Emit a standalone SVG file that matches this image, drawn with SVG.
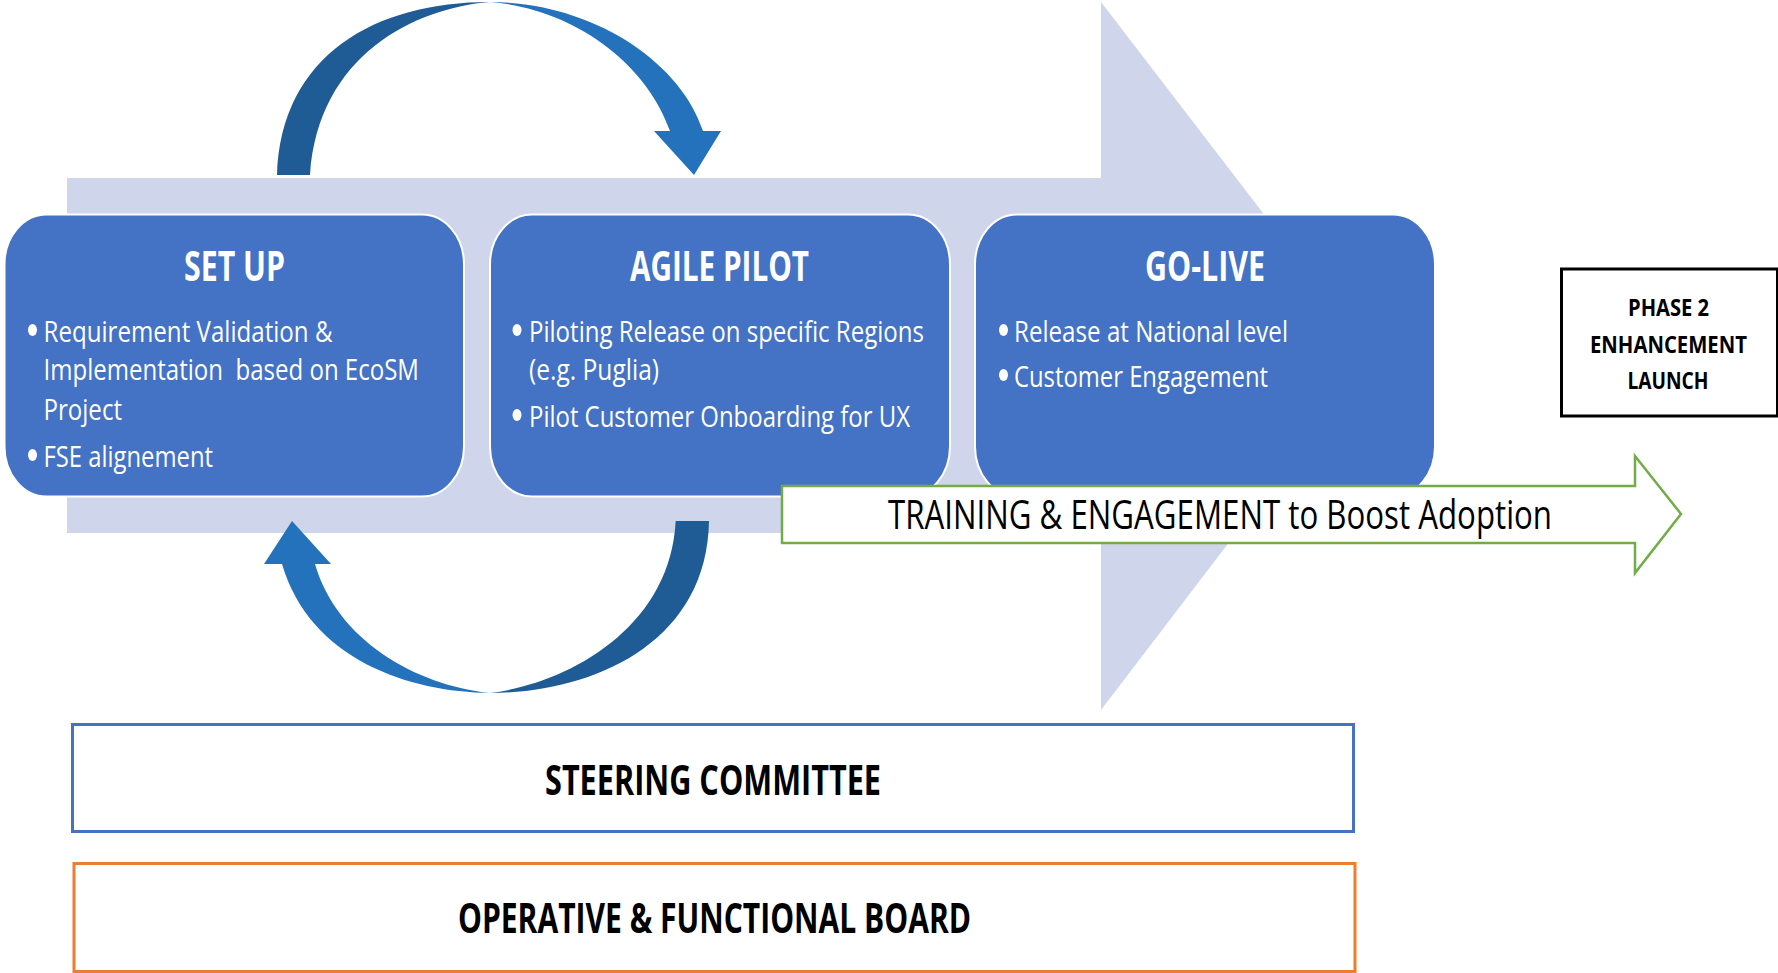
<svg xmlns="http://www.w3.org/2000/svg" width="1778" height="973" viewBox="0 0 1778 973">
<style>
text{font-family:"Open Sans","Liberation Sans",sans-serif;white-space:pre}
.title{fill:#fff;font-size:41px;font-weight:700}
.body{fill:#fff;font-size:30px;font-weight:500}
.bul{fill:#fff}
.step{fill:#4472c4;stroke:#fff;stroke-width:2}
.k42{fill:#000;font-size:41px;font-weight:700}
.k24{fill:#000;font-size:24px;font-weight:700}
.dark{fill:#1f5c96}
.lite{fill:#2472bb}
</style>
<rect width="1778" height="973" fill="#fff"/>
<g id="band"><polygon points="67,178 1101,178 1101,2 1372,355 1101,710 1101,533 67,533" fill="#cfd5ea"/></g>
<g id="connectors">
<path class="dark" d="M277,175 C281,55 375,2 490,2 C415,8 318,55 310,175 Z"/>
<path class="lite" d="M490,2 C590,2 680,60 703,131 L721,131 L694,175 L654,131 L670,131 C645,60 570,8 490,2 Z"/>
<path class="dark" d="M709,521 C707,645 590,693 490,693 C565,684 670,630 675.7,521 Z"/>
<path class="lite" d="M490,693 C410,692 310,660 282,564 L264,564 L292,521 L331,564 L315,564 C337,640 415,685 490,693 Z"/>
</g>
<g id="setup">
<rect class="step" x="4.5" y="214.5" width="459.5" height="282" rx="42" ry="50"/>
<text class="title" x="184" y="281" textLength="101" lengthAdjust="spacingAndGlyphs">SET UP</text>
<ellipse class="bul" cx="32.5" cy="330" rx="4.5" ry="6"/>
<text class="body" x="43.5" y="342" textLength="289" lengthAdjust="spacingAndGlyphs">Requirement Validation &amp;</text>
<text class="body" x="43.5" y="380" textLength="375.5" lengthAdjust="spacingAndGlyphs">Implementation  based on EcoSM</text>
<text class="body" x="43.5" y="420" textLength="78.5" lengthAdjust="spacingAndGlyphs">Project</text>
<ellipse class="bul" cx="32.5" cy="455" rx="4.5" ry="6"/>
<text class="body" x="43.5" y="467" textLength="169.5" lengthAdjust="spacingAndGlyphs">FSE alignement</text>
</g>
<g id="agile-pilot">
<rect class="step" x="490" y="214.5" width="460" height="282" rx="42" ry="50"/>
<text class="title" x="630" y="281" textLength="179" lengthAdjust="spacingAndGlyphs">AGILE PILOT</text>
<ellipse class="bul" cx="517" cy="330" rx="4.5" ry="6"/>
<text class="body" x="529" y="342" textLength="395" lengthAdjust="spacingAndGlyphs">Piloting Release on specific Regions</text>
<text class="body" x="529" y="380" textLength="130" lengthAdjust="spacingAndGlyphs">(e.g. Puglia)</text>
<ellipse class="bul" cx="517" cy="415" rx="4.5" ry="6"/>
<text class="body" x="529" y="427" textLength="381" lengthAdjust="spacingAndGlyphs">Pilot Customer Onboarding for UX</text>
</g>
<g id="go-live">
<rect class="step" x="975" y="214.5" width="460" height="282" rx="42" ry="50"/>
<text class="title" x="1145" y="281" textLength="120" lengthAdjust="spacingAndGlyphs">GO-LIVE</text>
<ellipse class="bul" cx="1003.5" cy="330" rx="4.5" ry="6"/>
<text class="body" x="1014" y="342" textLength="274" lengthAdjust="spacingAndGlyphs">Release at National level</text>
<ellipse class="bul" cx="1003.5" cy="375" rx="4.5" ry="6"/>
<text class="body" x="1014" y="387" textLength="254" lengthAdjust="spacingAndGlyphs">Customer Engagement</text>
</g>
<g id="training">
<polygon points="782,486 1635,486 1635,456 1681,514 1635,573 1635,543 782,543" fill="#fff" stroke="#70ad47" stroke-width="2.5"/>
<text x="888" y="529" font-size="41" fill="#000" textLength="664" lengthAdjust="spacingAndGlyphs">TRAINING &amp; ENGAGEMENT to Boost Adoption</text>
</g>
<g id="phase2">
<rect x="1561.5" y="269" width="216" height="147" fill="#fff" stroke="#000" stroke-width="3"/>
<text class="k24" x="1628" y="315.5" textLength="81" lengthAdjust="spacingAndGlyphs">PHASE 2</text>
<text class="k24" x="1590" y="352.5" textLength="157" lengthAdjust="spacingAndGlyphs">ENHANCEMENT</text>
<text class="k24" x="1627.5" y="389" textLength="81" lengthAdjust="spacingAndGlyphs">LAUNCH</text>
</g>
<g id="steering">
<rect x="72.5" y="724.5" width="1281" height="107" fill="#fff" stroke="#4472c4" stroke-width="3"/>
<text class="k42" x="545" y="795" textLength="336" lengthAdjust="spacingAndGlyphs">STEERING COMMITTEE</text>
</g>
<g id="operative">
<rect x="74" y="863.5" width="1281" height="108" fill="#fff" stroke="#ed7d31" stroke-width="3"/>
<text class="k42" x="458" y="933" textLength="513" lengthAdjust="spacingAndGlyphs">OPERATIVE &amp; FUNCTIONAL BOARD</text>
</g>
</svg>
